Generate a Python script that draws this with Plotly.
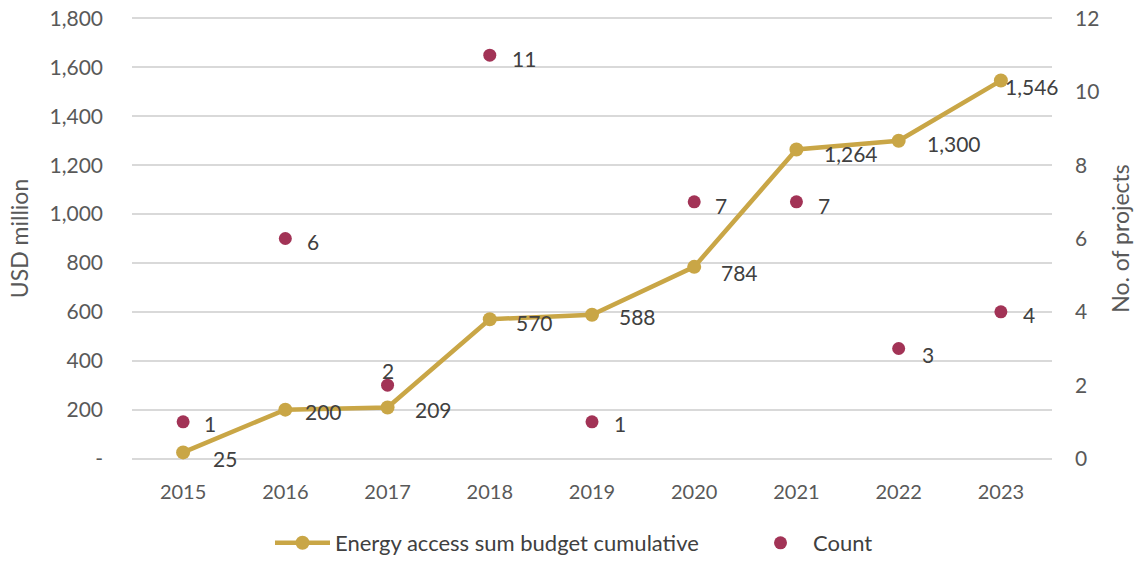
import plotly.graph_objects as go

years = ["2015", "2016", "2017", "2018", "2019", "2020", "2021", "2022", "2023"]
budget_cumulative = [25, 200, 209, 570, 588, 784, 1264, 1300, 1546]
project_count = [1, 6, 2, 11, 1, 7, 7, 3, 4]
left_tickvals = [0, 200, 400, 600, 800, 1000, 1200, 1400, 1600, 1800]
left_ticktext = ["-", "200", "400", "600", "800", "1,000", "1,200", "1,400", "1,600", "1,800"]
right_tickvals = [0, 2, 4, 6, 8, 10, 12]

GOLD = "#C9A646"
MAROON = "#A23356"
FONT = "Lato"
TXT = "#404040"
AX = "#595959"

W, H = 1145, 561
PAD = 6 / 1800  # small range padding so edge gridlines are drawn

# label pixel offsets (style)
budget_shift = [(42, -6), (38, -2), (46, -2), (45, -3), (45, -2), (45, -6), (55, -4), (55, -3), (31, -6)]
count_shift = [(27, -2), (28, -3), (0, 15), (34, -3), (28, -2), (27, -4), (28, -4), (29, -6), (28, -3)]

fig = go.Figure()
fig.add_trace(go.Scatter(
    x=years, y=budget_cumulative, mode="lines+markers",
    name="Energy access sum budget cumulative",
    line=dict(color=GOLD, width=4.5),
    marker=dict(color=GOLD, size=14),
    legend="legend",
))
fig.add_trace(go.Scatter(
    x=years, y=project_count, mode="markers", name="Count",
    marker=dict(color=MAROON, size=13), yaxis="y2",
    legend="legend2",
))

annotations = []
for i, (v, (dx, dy)) in enumerate(zip(budget_cumulative, budget_shift)):
    annotations.append(dict(x=i, y=v, xref="x", yref="y", text=f"{v:,}", showarrow=False,
                            xshift=dx, yshift=dy, font=dict(family=FONT, size=21, color=TXT)))
for i, (v, (dx, dy)) in enumerate(zip(project_count, count_shift)):
    annotations.append(dict(x=i, y=v, xref="x", yref="y2", text=str(v), showarrow=False,
                            xshift=dx, yshift=dy, font=dict(family=FONT, size=21, color=TXT)))

legend_style = dict(orientation="h", xref="container", xanchor="left",
                    yref="container", yanchor="middle", y=(H - 543) / H,
                    font=dict(family=FONT, size=22, color=TXT), itemwidth=55,
                    bgcolor="rgba(0,0,0,0)")

ymax, y2max = left_tickvals[-1], right_tickvals[-1]

fig.update_layout(
    width=W, height=H,
    margin=dict(l=132, r=93, t=16.5, b=100.5, autoexpand=False),
    plot_bgcolor="white", paper_bgcolor="white",
    font=dict(family=FONT, size=20, color=AX),
    showlegend=True,
    legend=dict(legend_style, x=270 / W),
    legend2=dict(legend_style, x=748 / W),
    xaxis=dict(type="category", range=[-0.5, 8.5], showgrid=False, showline=False, ticks="",
               tickfont=dict(size=20, color=AX), ticklabelstandoff=18, automargin=False),
    yaxis=dict(range=[-ymax * PAD, ymax * (1 + PAD)], tickvals=left_tickvals, ticktext=left_ticktext,
               showgrid=True, gridcolor="#D9D9D9", gridwidth=1.5, zeroline=False,
               showline=False, ticks="", ticklabelstandoff=28, automargin=False,
               ticklabeloverflow="allow",
               title=dict(text="USD million", font=dict(size=23, color=AX), standoff=14),
               tickfont=dict(size=21, color=AX)),
    yaxis2=dict(range=[-y2max * PAD, y2max * (1 + PAD)], tickvals=right_tickvals,
                overlaying="y", side="right",
                showgrid=False, zeroline=False, showline=False, ticks="", ticklabelstandoff=22,
                automargin=False, ticklabeloverflow="allow",
                title=dict(text="No. of projects", font=dict(size=23, color=AX), standoff=14),
                tickfont=dict(size=21, color=AX)),
    annotations=annotations,
)

fig.write_html("out.html", config={"displayModeBar": False},
               post_script="document.body.style.margin='0px';")
